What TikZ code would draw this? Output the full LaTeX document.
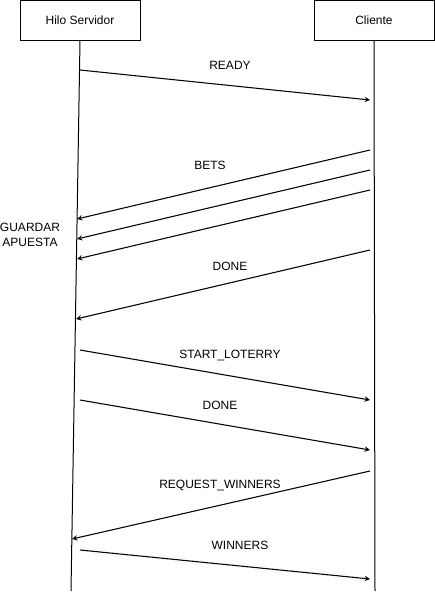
\documentclass[tikz,border=0pt]{standalone}
\usepackage{fontspec}
\setmainfont{Liberation Sans}
\usetikzlibrary{arrows}

\begin{document}
\begin{tikzpicture}[
            x = 0.75pt, y = -0.75pt, % pixel grid, y downwards
            > = stealth, % arrow head style
            line width = 0.75pt, % line style
            font = \fontsize{9}{11}\selectfont
        ]

        \tikzstyle{actor}=[
            draw = black,
            fill = white,
            minimum width = 90pt,
            minimum height = 30pt,
            inner sep = 0pt
        ]
        \tikzstyle{msg}=[->, line width = 0.8pt]

        \useasboundingbox (0,0) rectangle (435,593);

        \node[actor] (srv) at (80,20)  {Hilo Servidor};
        \node[actor] (cli) at (374,20) {Cliente};

        \coordinate (srvend) at (71,591);
        \coordinate (cliend) at (375,591);
        \draw (srv.south) -- (srvend);
        \draw (cli.south) -- (cliend);

        % message end points
        \coordinate (s1) at (80,70);   \coordinate (c1) at (370,100);
        \coordinate (c2) at (370,150); \coordinate (s2) at (77,219);
        \coordinate (c3) at (370,170); \coordinate (s3) at (77,239);
        \coordinate (c4) at (370,190); \coordinate (s4) at (77,259);
        \coordinate (c5) at (370,250); \coordinate (s5) at (76,319);
        \coordinate (s6) at (80,350);  \coordinate (c6) at (370,400);
        \coordinate (s7) at (80,400);  \coordinate (c7) at (370,450);
        \coordinate (c8) at (370,471); \coordinate (s8) at (72,539);
        \coordinate (s9) at (80,550);  \coordinate (c9) at (370,579);

        \draw[msg] (s1) -- (c1);
        \draw[msg] (c2) -- (s2);
        \draw[msg] (c3) -- (s3);
        \draw[msg] (c4) -- (s4);
        \draw[msg] (c5) -- (s5);
        \draw[msg] (s6) -- (c6);
        \draw[msg] (s7) -- (c7);
        \draw[msg] (c8) -- (s8);
        \draw[msg] (s9) -- (c9);

        \node (ready) at (230,65)  {READY};
        \node (bets)  at (210,165) {BETS};
        \node[align=center] (guardar) at (30,235) {GUARDAR\\APUESTA};
        \node (done1) at (230,266) {DONE};
        \node (start) at (230,355) {START\_LOTERRY};
        \node (done2) at (220,405) {DONE};
        \node (req)   at (220,485) {REQUEST\_WINNERS};
        \node (win)   at (240,545) {WINNERS};
    \end{tikzpicture}
\end{document}
